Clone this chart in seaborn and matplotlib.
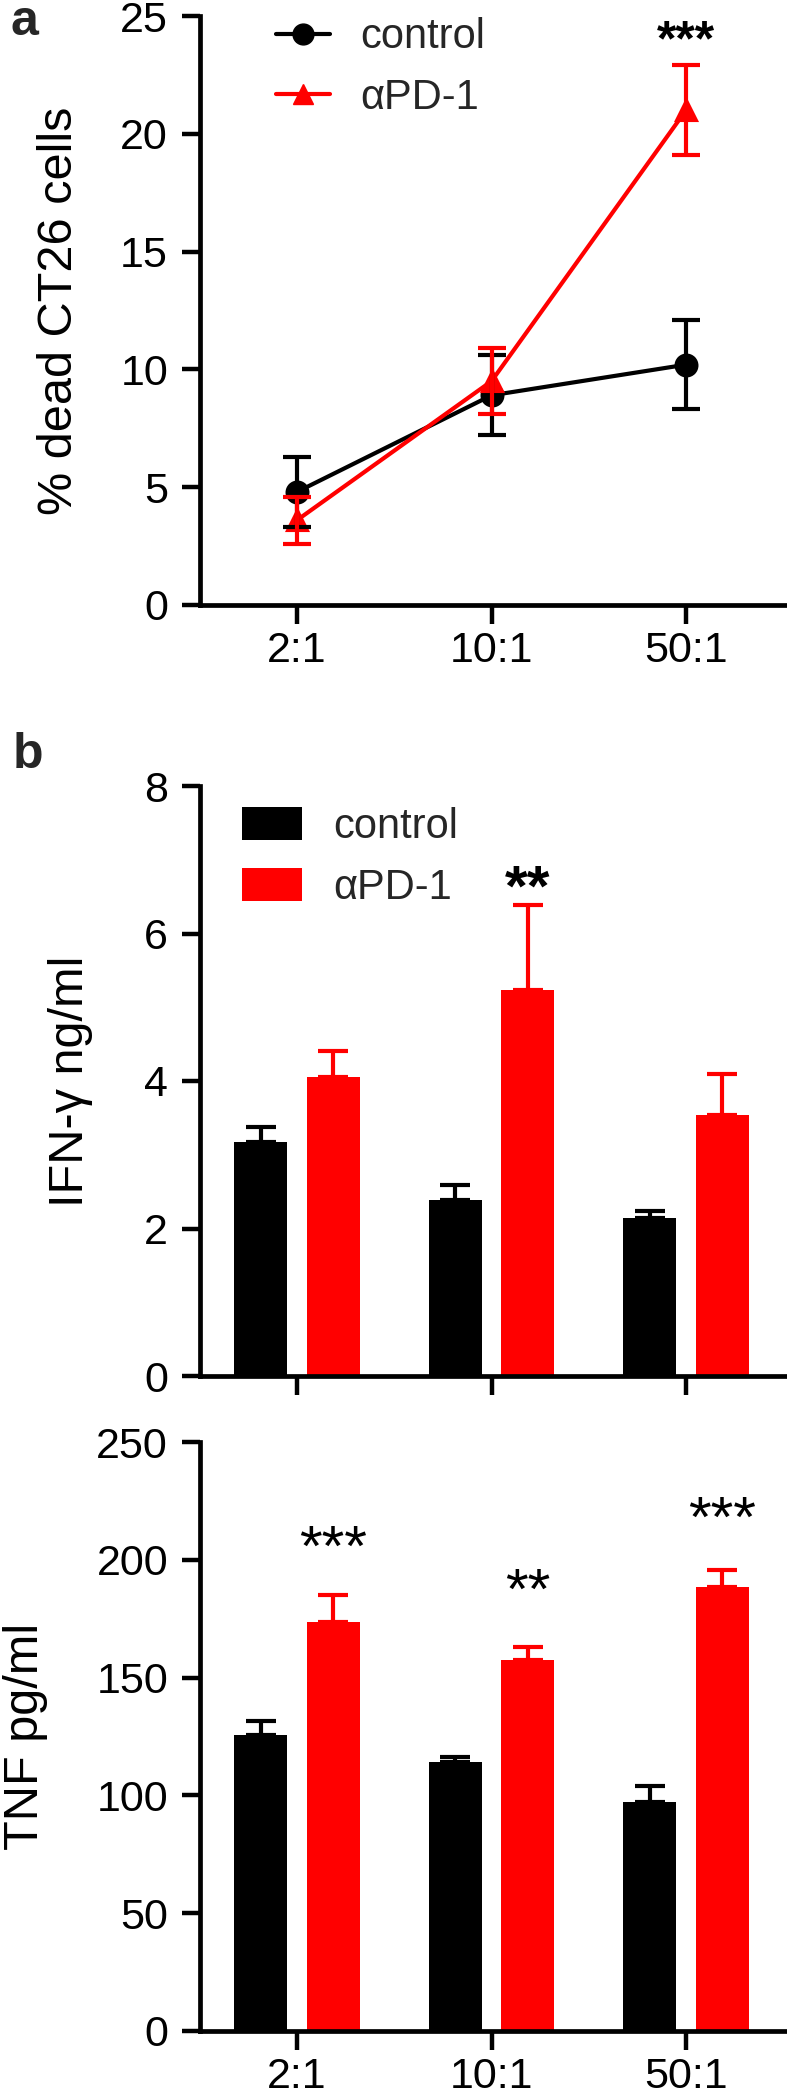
import numpy as np
import pandas as pd
import matplotlib
matplotlib.use("Agg")
import matplotlib.pyplot as plt
import seaborn as sns
from matplotlib.lines import Line2D
from matplotlib.patches import Patch

# ---------------- data ----------------
ratios = ["2:1", "10:1", "50:1"]
groups = ["control", "αPD-1"]
colors = ["#000000", "#ff0000"]

dead_control = [4.8, 8.9, 10.2]
dead_control_err = [1.5, 1.7, 1.9]
dead_apd1 = [3.6, 9.5, 21.0]
dead_apd1_err = [1.0, 1.4, 1.9]

ifn_control = [3.17, 2.39, 2.14]
ifn_control_err = [0.20, 0.20, 0.10]
ifn_apd1 = [4.06, 5.23, 3.54]
ifn_apd1_err = [0.35, 1.16, 0.55]

tnf_control = [125.7, 114.0, 97.1]
tnf_control_err = [5.7, 2.2, 7.1]
tnf_apd1 = [173.8, 157.5, 188.4]
tnf_apd1_err = [11.3, 5.7, 7.1]

# significance marks (label text, category index, label height)
dead_stars = [("***", 2, 23.9)]
ifn_stars = [("**", 1, 6.58)]
tnf_stars = [("***", 0, 204.0), ("**", 1, 185.5), ("***", 2, 216.0)]


def long_df(ctrl, apd1):
    return pd.DataFrame({
        "ratio": ratios * 2,
        "group": [groups[0]] * 3 + [groups[1]] * 3,
        "value": list(ctrl) + list(apd1),
    })


# ---------------- style ----------------
sns.set_theme(style="ticks")
plt.rcParams["font.family"] = ["Liberation Sans", "DejaVu Sans"]
plt.rcParams["axes.linewidth"] = 3.4

W, H = 787, 2097
fig = plt.figure(figsize=(W / 100, H / 100), dpi=100)


def rect(left, top, right, bottom):
    return [left / W, 1 - bottom / H, (right - left) / W, (bottom - top) / H]


ax_a = fig.add_axes(rect(200, 16, 786, 605))
ax_i = fig.add_axes(rect(200, 786, 786, 1376))
ax_t = fig.add_axes(rect(200, 1442, 786, 2031))

TICK_FS = 31
LABEL_FS = 35
LEG_FS = 30


def style(ax, ylabel, ylim, yticks, labx, show_xlabels=True):
    sns.despine(ax=ax)
    for s in ("left", "bottom"):
        ax.spines[s].set_linewidth(3.4)
        ax.spines[s].set_color("black")
    ax.set_xlim(-0.4987, 2.514)
    ax.set_ylim(*ylim)
    ax.set_yticks(yticks)
    ax.tick_params(axis="y", length=13, width=3.2, pad=10, labelsize=TICK_FS,
                   colors="black")
    ax.tick_params(axis="x", length=14, width=3.2, pad=5, labelsize=TICK_FS,
                   colors="black", labelbottom=show_xlabels)
    ax.set_xlabel("")
    ax.set_ylabel(ylabel, fontsize=LABEL_FS, color="black")
    ax.yaxis.set_label_coords(labx, 0.5)
    ax.grid(False)


# ---------------- panel a ----------------
df_a = long_df(dead_control, dead_apd1)
sns.pointplot(data=df_a, x="ratio", y="value", hue="group", order=ratios,
              hue_order=groups, palette=colors, markers=["o", "^"],
              linestyles=["-", "-"], errorbar=None, dodge=False, legend=False,
              ax=ax_a, markersize=15, linewidth=3.0)
xs = np.arange(len(ratios))
for m, e, c in ((dead_control, dead_control_err, colors[0]),
                (dead_apd1, dead_apd1_err, colors[1])):
    ax_a.errorbar(xs, m, yerr=e, fmt="none", ecolor=c, elinewidth=3.0,
                  capsize=10, capthick=3.0, zorder=3)
style(ax_a, "% dead CT26 cells", (0, 25), [0, 5, 10, 15, 20, 25], -0.201)
for txt, i, y in dead_stars:
    ax_a.text(i, y, txt, ha="center", va="center", fontsize=36,
              fontweight="bold", color="black")
handles_a = [Line2D([], [], color=c, marker=mk, lw=3.0, ms=15)
             for c, mk in zip(colors, ["o", "^"])]
ax_a.legend(handles_a, groups, loc="upper left", bbox_to_anchor=(0.1297, 0.998),
            frameon=False, fontsize=LEG_FS, handlelength=1.3,
            handletextpad=0.72, labelspacing=0.5, borderpad=0,
            borderaxespad=0)


# ---------------- panel b: bars ----------------
def bar_panel(ax, ctrl, ctrl_err, apd1, apd1_err):
    df = long_df(ctrl, apd1)
    sns.barplot(data=df, x="ratio", y="value", hue="group", order=ratios,
                hue_order=groups, palette=colors, width=0.75, gap=0.273,
                errorbar=None, saturation=1, legend=False, linewidth=0, ax=ax)
    centers = {}
    for cont, errs, col, g in zip(ax.containers, (ctrl_err, apd1_err), colors, groups):
        bx = [b.get_x() + b.get_width() / 2 for b in cont]
        by = [b.get_height() for b in cont]
        centers[g] = bx
        ax.errorbar(bx, by, yerr=[np.zeros(len(errs)), errs], fmt="none",
                    ecolor=col, elinewidth=3.0, capsize=11, capthick=3.0,
                    zorder=0.5)
    return centers


cen_i = bar_panel(ax_i, ifn_control, ifn_control_err, ifn_apd1, ifn_apd1_err)
style(ax_i, "IFN-γ ng/ml", (0, 8), [0, 2, 4, 6, 8], -0.183, show_xlabels=False)
for txt, i, y in ifn_stars:
    ax_i.text(cen_i[groups[1]][i], y, txt, ha="center", va="center",
              fontsize=42, fontweight="bold", color="black")
handles_b = [Patch(facecolor=c, edgecolor="none") for c in colors]
ax_i.legend(handles_b, groups, loc="upper left", bbox_to_anchor=(0.0717, 0.965),
            frameon=False, fontsize=LEG_FS, handlelength=1.45,
            handleheight=0.85, handletextpad=0.75, labelspacing=0.5,
            borderpad=0, borderaxespad=0)

cen_t = bar_panel(ax_t, tnf_control, tnf_control_err, tnf_apd1, tnf_apd1_err)
style(ax_t, "TNF pg/ml", (0, 250), [0, 50, 100, 150, 200, 250], -0.259)
for txt, i, y in tnf_stars:
    ax_t.text(cen_t[groups[1]][i], y, txt, ha="center", va="center",
              fontsize=42, color="black")

# panel letters
fig.text(10 / W, 1 - 35 / H, "a", fontsize=36, fontweight="bold",
         ha="left", va="baseline")
fig.text(13 / W, 1 - 768 / H, "b", fontsize=36, fontweight="bold",
         ha="left", va="baseline")

fig.savefig("out.png", dpi=100, facecolor="white")
